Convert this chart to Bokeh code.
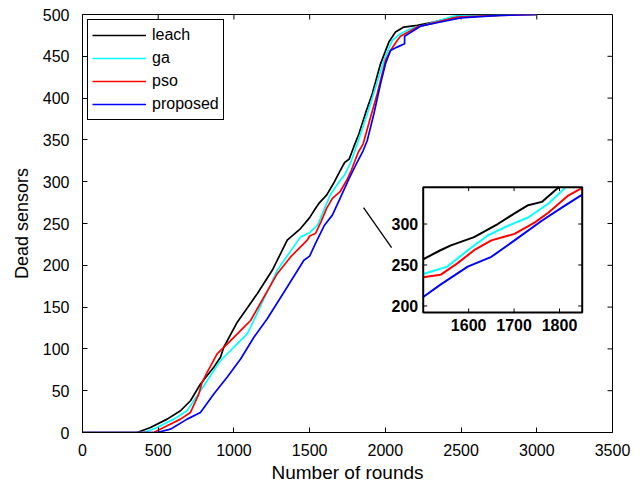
from bokeh.plotting import figure
from bokeh.models import Range1d, SingleIntervalTicker, Legend, LegendItem
from bokeh.core.properties import value
from bokeh.embed import file_html
from bokeh.resources import INLINE
import numpy as np

# ---------------- data ----------------
leach_x = [0, 361, 449, 559, 647, 713, 779, 867, 911, 933, 1022, 1154, 1253, 1352, 1440, 1500, 1538, 1561,
           1612, 1664, 1701, 1731, 1761, 1790, 1825, 1869, 1913, 1968, 2023, 2067, 2122, 2211, 2320, 2497, 2760, 3000]
leach_y = [0, 0, 6, 16, 26, 38, 58, 78, 90, 102, 132, 166, 194, 230, 244, 257, 268, 274,
           284, 300, 313, 323, 327, 341, 357, 382, 405, 441, 467, 479, 485, 487, 491, 499, 500, 500]

ga_x = [0, 405, 493, 603, 691, 779, 823, 911, 933, 999, 1088, 1110, 1286, 1440, 1500, 1553, 1598, 1642,
        1687, 1731, 1776, 1814, 1902, 1990, 2045, 2100, 2166, 2254, 2452, 3000]
ga_y = [0, 0, 6, 16, 26, 50, 62, 86, 90, 102, 118, 126, 194, 234, 239, 248, 268, 286,
        298, 308, 325, 345, 393, 445, 469, 477, 483, 487, 498, 500]

pso_x = [0, 471, 559, 647, 713, 768, 790, 823, 889, 978, 1088, 1110, 1286, 1374, 1484, 1500, 1538, 1575,
         1612, 1650, 1701, 1746, 1776, 1820, 1853, 1902, 1946, 2001, 2034, 2078, 2100, 2211, 2320, 2475, 2760, 3000]
pso_y = [0, 0, 8, 16, 24, 46, 60, 72, 94, 110, 130, 134, 190, 210, 230, 235, 238, 252,
         268, 280, 288, 302, 314, 335, 345, 377, 405, 445, 457, 469, 474, 485, 490, 497, 499, 500]

prop_x = [0, 493, 581, 691, 779, 867, 955, 1044, 1132, 1220, 1352, 1462, 1500, 1538, 1598, 1650, 1701, 1761,
          1805, 1853, 1880, 1924, 1968, 2001, 2034, 2078, 2127, 2127, 2232, 2365, 2497, 2760, 3000]
prop_y = [0, 0, 4, 16, 24, 46, 66, 88, 114, 136, 174, 206, 211, 226, 248, 260, 280, 304,
          320, 337, 349, 381, 417, 441, 457, 461, 465, 474, 486, 491, 496, 499, 500]

series_names = ["leach", "ga", "pso", "proposed"]
series_colors = ["black", "#00FFFF", "#FF0000", "#0000FF"]
series_x = [leach_x, ga_x, pso_x, prop_x]
series_y = [leach_y, ga_y, pso_y, prop_y]

x_ticks_step = 500
y_ticks_step = 50

# inset axis limits and ticks
inset_xlim = (1500, 1850)
inset_ylim = (192, 345)
inset_xticks = [1600, 1700, 1800]
inset_yticks = [200, 250, 300]

# ---------------- layout constants ----------------
X_RANGE = (0, 3500)
Y_RANGE = (0, 500)
BOX_X = (2250, 3300)      # inset box position in main data space
BOX_Y = (143.5, 293.5)
CONNECT = ([1856, 2041], [269, 221])

FONT = "Liberation Sans"

p = figure(width=640, height=488, x_range=Range1d(*X_RANGE), y_range=Range1d(*Y_RANGE),
           output_backend="svg", toolbar_location=None,
           min_border_left=82, min_border_right=28, min_border_top=14, min_border_bottom=56)
p.grid.visible = False
p.outline_line_color = "black"
p.outline_line_alpha = 1
p.outline_line_width = 1
p.background_fill_color = "white"
p.border_fill_color = "white"

p.xaxis.ticker = SingleIntervalTicker(interval=x_ticks_step)
p.yaxis.ticker = SingleIntervalTicker(interval=y_ticks_step)
p.xaxis.axis_label = "Number of rounds"
p.yaxis.axis_label = "Dead sensors"

for ax in [p.xaxis[0], p.yaxis[0]]:
    ax.major_tick_in = 5
    ax.major_tick_out = 0
    ax.minor_tick_line_color = None
    ax.axis_line_color = "black"
    ax.major_tick_line_color = "black"
    ax.major_label_text_font = FONT
    ax.major_label_text_font_size = "16px"
    ax.major_label_text_color = "black"
    ax.axis_label_text_font = FONT
    ax.axis_label_text_font_style = "normal"
    ax.axis_label_text_color = "black"
p.xaxis.axis_label_text_font_size = "19px"
p.yaxis.axis_label_text_font_size = "18px"
p.xaxis.major_label_standoff = 7
p.xaxis.axis_label_standoff = 3
p.yaxis.major_label_standoff = 9
p.yaxis.axis_label_standoff = 8

# mirrored ticks on top and right (inward)
xt = list(range(X_RANGE[0], X_RANGE[1] + 1, x_ticks_step))
yt = list(range(Y_RANGE[0], Y_RANGE[1] + 1, y_ticks_step))
p.ray(x=xt, y=[Y_RANGE[1]] * len(xt), length=5, length_units="screen", angle=-np.pi / 2,
      line_color="black", line_width=1)
p.ray(x=[X_RANGE[1]] * len(yt), y=yt, length=5, length_units="screen", angle=np.pi,
      line_color="black", line_width=1)

# main lines
items = []
for name, col, xs, ys in zip(series_names, series_colors, series_x, series_y):
    r = p.line(xs, ys, line_color=col, line_width=1.7)
    items.append(LegendItem(label=name, renderers=[r]))

legend = Legend(items=items, location="top_left", margin=5, padding=4, spacing=1,
                label_height=22, glyph_height=22, glyph_width=54, label_standoff=6,
                label_text_font=FONT, label_text_font_size="16px", label_text_color="black",
                border_line_color="black", border_line_width=1, border_line_alpha=1,
                background_fill_color="white", background_fill_alpha=1)
p.add_layout(legend)

# connector line
p.line(CONNECT[0], CONNECT[1], line_color="black", line_width=1.3)

# ---------------- inset via extra ranges ----------------
sx = (inset_xlim[1] - inset_xlim[0]) / (BOX_X[1] - BOX_X[0])
sy = (inset_ylim[1] - inset_ylim[0]) / (BOX_Y[1] - BOX_Y[0])
p.extra_x_ranges = {"ix": Range1d(inset_xlim[0] - (BOX_X[0] - X_RANGE[0]) * sx,
                                  inset_xlim[1] + (X_RANGE[1] - BOX_X[1]) * sx)}
p.extra_y_ranges = {"iy": Range1d(inset_ylim[0] - (BOX_Y[0] - Y_RANGE[0]) * sy,
                                  inset_ylim[1] + (Y_RANGE[1] - BOX_Y[1]) * sy)}


def clip_seg(x0, y0, x1, y1, xmin, xmax, ymin, ymax):
    dx, dy = x1 - x0, y1 - y0
    t0, t1 = 0.0, 1.0
    for pp, qq in ((-dx, x0 - xmin), (dx, xmax - x0), (-dy, y0 - ymin), (dy, ymax - y0)):
        if pp == 0:
            if qq < 0:
                return None
        else:
            t = qq / pp
            if pp < 0:
                t0 = max(t0, t)
            else:
                t1 = min(t1, t)
    if t0 > t1:
        return None
    return (x0 + t0 * dx, y0 + t0 * dy), (x0 + t1 * dx, y0 + t1 * dy)


def clip_poly(xs, ys, xmin, xmax, ymin, ymax):
    parts, cur = [], []
    for i in range(len(xs) - 1):
        s = clip_seg(xs[i], ys[i], xs[i + 1], ys[i + 1], xmin, xmax, ymin, ymax)
        if s is None:
            if cur:
                parts.append(cur)
                cur = []
            continue
        a, b = s
        if cur and abs(cur[-1][0] - a[0]) < 1e-9 and abs(cur[-1][1] - a[1]) < 1e-9:
            cur.append(b)
        else:
            if cur:
                parts.append(cur)
            cur = [a, b]
    if cur:
        parts.append(cur)
    return [[q[0] for q in c] for c in parts], [[q[1] for q in c] for c in parts]


p.quad(left=[inset_xlim[0]], right=[inset_xlim[1]], bottom=[inset_ylim[0]], top=[inset_ylim[1]],
       fill_color="white", line_color=None, x_range_name="ix", y_range_name="iy")

for col, xs, ys in zip(series_colors, series_x, series_y):
    cx, cy = clip_poly(xs, ys, inset_xlim[0], inset_xlim[1], inset_ylim[0], inset_ylim[1])
    p.multi_line(cx, cy, line_color=col, line_width=2.0, x_range_name="ix", y_range_name="iy")

p.quad(left=[inset_xlim[0]], right=[inset_xlim[1]], bottom=[inset_ylim[0]], top=[inset_ylim[1]],
       fill_color=None, line_color="black", line_width=2, x_range_name="ix", y_range_name="iy")

# inset ticks (screen-length rays)
n = len(inset_xticks)
p.ray(x=inset_xticks, y=[inset_ylim[0]] * n, length=4, length_units="screen", angle=np.pi / 2,
      line_color="black", line_width=1, x_range_name="ix", y_range_name="iy")
p.ray(x=inset_xticks, y=[inset_ylim[1]] * n, length=4, length_units="screen", angle=-np.pi / 2,
      line_color="black", line_width=1, x_range_name="ix", y_range_name="iy")
m = len(inset_yticks)
p.ray(x=[inset_xlim[0]] * m, y=inset_yticks, length=4, length_units="screen", angle=0,
      line_color="black", line_width=1, x_range_name="ix", y_range_name="iy")
p.ray(x=[inset_xlim[1]] * m, y=inset_yticks, length=4, length_units="screen", angle=np.pi,
      line_color="black", line_width=1, x_range_name="ix", y_range_name="iy")

# inset tick labels
p.text(x=inset_xticks, y=[inset_ylim[0]] * n, text=[str(t) for t in inset_xticks],
       x_range_name="ix", y_range_name="iy", y_offset=6, text_align="center", text_baseline="top",
       text_font=value(FONT), text_font_size="16px", text_font_style="bold", text_color="black")
p.text(x=[inset_xlim[0]] * m, y=inset_yticks, text=[str(t) for t in inset_yticks],
       x_range_name="ix", y_range_name="iy", x_offset=-5, text_align="right", text_baseline="middle",
       text_font=value(FONT), text_font_size="16px", text_font_style="bold", text_color="black")

open("out.html", "w").write(file_html(p, INLINE))
